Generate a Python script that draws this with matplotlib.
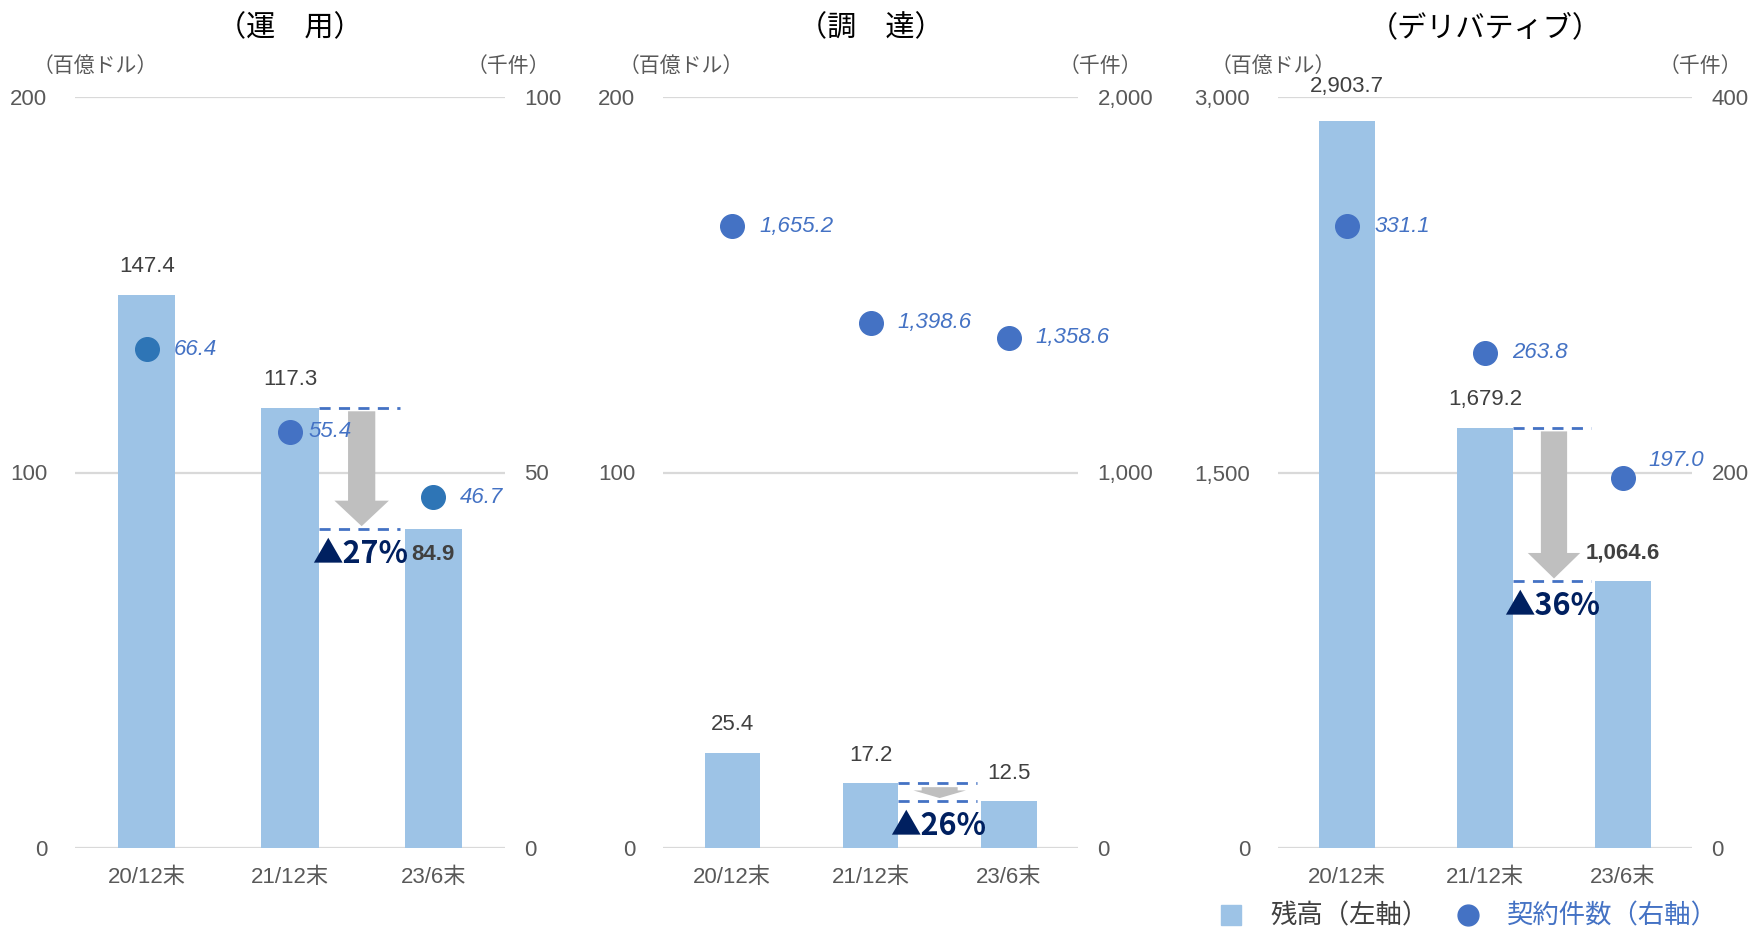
import matplotlib
matplotlib.use('Agg')
import matplotlib.pyplot as plt
from matplotlib.patches import FancyArrow
from matplotlib.lines import Line2D

plt.rcParams['font.family'] = ['Noto Sans CJK JP', 'DejaVu Sans']
NUM_FONT = ['Liberation Sans', 'Noto Sans CJK JP']

# ---- data ----
categories = ['20/12末', '21/12末', '23/6末']
titles = ['（運\u3000用）', '（調\u3000達）', '（デリバティブ）']

# 残高（左軸, 百億ドル）
balance_unyo = [147.4, 117.3, 84.9]
balance_chotatsu = [25.4, 17.2, 12.5]
balance_deriv = [2903.7, 1679.2, 1064.6]

# 契約件数（右軸, 千件）
contracts_unyo = [66.4, 55.4, 46.7]
contracts_chotatsu = [1655.2, 1398.6, 1358.6]
contracts_deriv = [331.1, 263.8, 197.0]

left_max = [200, 200, 3000]
right_max = [100, 2000, 400]
change_labels = ['▲27%', '▲26%', '▲36%']

balances = [balance_unyo, balance_chotatsu, balance_deriv]
contracts = [contracts_unyo, contracts_chotatsu, contracts_deriv]

# ---- style ----
BAR_COLOR = '#9DC3E6'
DOT_BLUE = '#4472C4'
DOT_TEAL = '#2E75B6'
GRID = '#D9D9D9'
TICK_COLOR = '#595959'
LABEL_COLOR = '#404040'
NAVY = '#002060'
ARROW_GRAY = '#BFBFBF'

dot_colors = [[DOT_TEAL, DOT_BLUE, DOT_TEAL], [DOT_BLUE] * 3, [DOT_BLUE] * 3]
# axes rectangles in pixels (left, width) for a 1750x934 canvas
panel_px = [(75, 430), (663, 415), (1278, 414)]
unit_left_dx = [-42, -44, -67]
unit_right_dx = [45, 64, 50]

W, H = 1750, 934
fig = plt.figure(figsize=(W / 100, H / 100), dpi=100)
ax_bottom = 1 - 848 / H
ax_height = (848 - 97) / H


def fmt(v, nd=1):
    return f'{v:,.{nd}f}'


for i in range(3):
    left, width = panel_px[i]
    ax = fig.add_axes([left / W, ax_bottom, width / W, ax_height])
    ax2 = ax.twinx()
    x = range(len(categories))
    bal = balances[i]
    con = contracts[i]
    lmax = left_max[i]
    rmax = right_max[i]

    ax.bar(x, bal, width=0.4, color=BAR_COLOR, zorder=2)
    ax.set_xlim(-0.5, 2.5)
    ax.set_ylim(0, lmax)
    ax.set_yticks([0, lmax / 2, lmax])
    ax.set_yticklabels([fmt(t, 0) for t in [0, lmax / 2, lmax]])
    ax.yaxis.grid(True, color=GRID, lw=1.6)
    ax.set_axisbelow(True)
    ax.set_xticks(list(x))
    ax.set_xticklabels(categories)

    ax2.set_ylim(0, rmax)
    ax2.set_yticks([0, rmax / 2, rmax])
    ax2.set_yticklabels([fmt(t, 0) for t in [0, rmax / 2, rmax]])

    for a in (ax, ax2):
        for s in a.spines.values():
            s.set_visible(False)
        a.tick_params(length=0, colors=TICK_COLOR, labelsize=16)
        for lab in a.get_yticklabels() + a.get_xticklabels():
            lab.set_family(NUM_FONT)
    ax.tick_params(axis='y', pad=20)
    ax.tick_params(axis='x', pad=14)
    ax2.tick_params(axis='y', pad=14)

    # contract dots
    for j in range(len(con)):
        ax2.plot(j, con[j], 'o', ms=17, color=dot_colors[i][j],
                 mec=dot_colors[i][j], zorder=5)
        dx, dy = 27, 0
        if i == 0 and j == 1:
            dx = 18
        if i == 2 and j == 2:
            dx, dy = 25, 18
        ax2.annotate(fmt(con[j]), (j, con[j]), xytext=(dx, dy),
                     textcoords='offset pixels', ha='left', va='center',
                     fontsize=16, style='italic', color=DOT_BLUE,
                     family=NUM_FONT, zorder=6)

    # balance labels
    for j in range(len(bal)):
        off, weight = 28, 'normal'
        if i == 0 and j == 2:
            off, weight = -25, 'bold'
        if i == 2 and j == 2:
            weight = 'bold'
        if i == 2 and j == 0:
            off = 35
        ax.annotate(fmt(bal[j]), (j, bal[j]), xytext=(0, off),
                    textcoords='offset pixels', ha='center', va='center',
                    fontsize=16, color=LABEL_COLOR, fontweight=weight,
                    family=NUM_FONT, zorder=6)

    # decline marker between the last two bars
    for level in (bal[1], bal[2]):
        ax.plot([1.2, 1.77], [level, level], color=DOT_BLUE, lw=2,
                ls=(0, (4, 3)), zorder=3)
    top = bal[1] - 0.005 * lmax
    tip = bal[2] + 0.004 * lmax
    head_len = min(0.034 * lmax, (top - tip) * 0.7)
    body_w = 0.26 if i == 1 else 0.19
    ax.add_patch(FancyArrow(1.5, top, 0, tip - top, width=body_w,
                            head_width=0.38, head_length=head_len,
                            length_includes_head=True, color=ARROW_GRAY,
                            lw=0, zorder=3))
    ax.annotate(change_labels[i], (1.5, bal[2]), xytext=(-2, -25),
                textcoords='offset pixels', ha='center', va='center',
                fontsize=22, fontweight='bold', color=NAVY, zorder=6)

    # titles and units
    ax.annotate(titles[i], (0.5, 1), xycoords='axes fraction',
                xytext=(0, 69), textcoords='offset pixels',
                ha='center', va='center', fontsize=21, color='black')
    ax.annotate('（百億ドル）', (0, 1), xycoords='axes fraction',
                xytext=(unit_left_dx[i], 31), textcoords='offset pixels',
                ha='left', va='center', fontsize=15, color=TICK_COLOR)
    ax.annotate('（千件）', (1, 1), xycoords='axes fraction',
                xytext=(unit_right_dx[i], 31), textcoords='offset pixels',
                ha='right', va='center', fontsize=15, color=TICK_COLOR)

# legend
handles = [Line2D([], [], marker='s', ls='', ms=14, color=BAR_COLOR),
           Line2D([], [], marker='o', ls='', ms=15, color=DOT_BLUE)]
leg = fig.legend(handles, ['残高（左軸）', '契約件数（右軸）'], ncol=2,
                 loc='lower right', bbox_to_anchor=(1742 / W, -0.021),
                 frameon=False, fontsize=19, handletextpad=0.48,
                 columnspacing=0.5)
leg.get_texts()[0].set_color(LABEL_COLOR)
leg.get_texts()[1].set_color(DOT_BLUE)

fig.savefig('out.png', dpi=100, facecolor='white')
